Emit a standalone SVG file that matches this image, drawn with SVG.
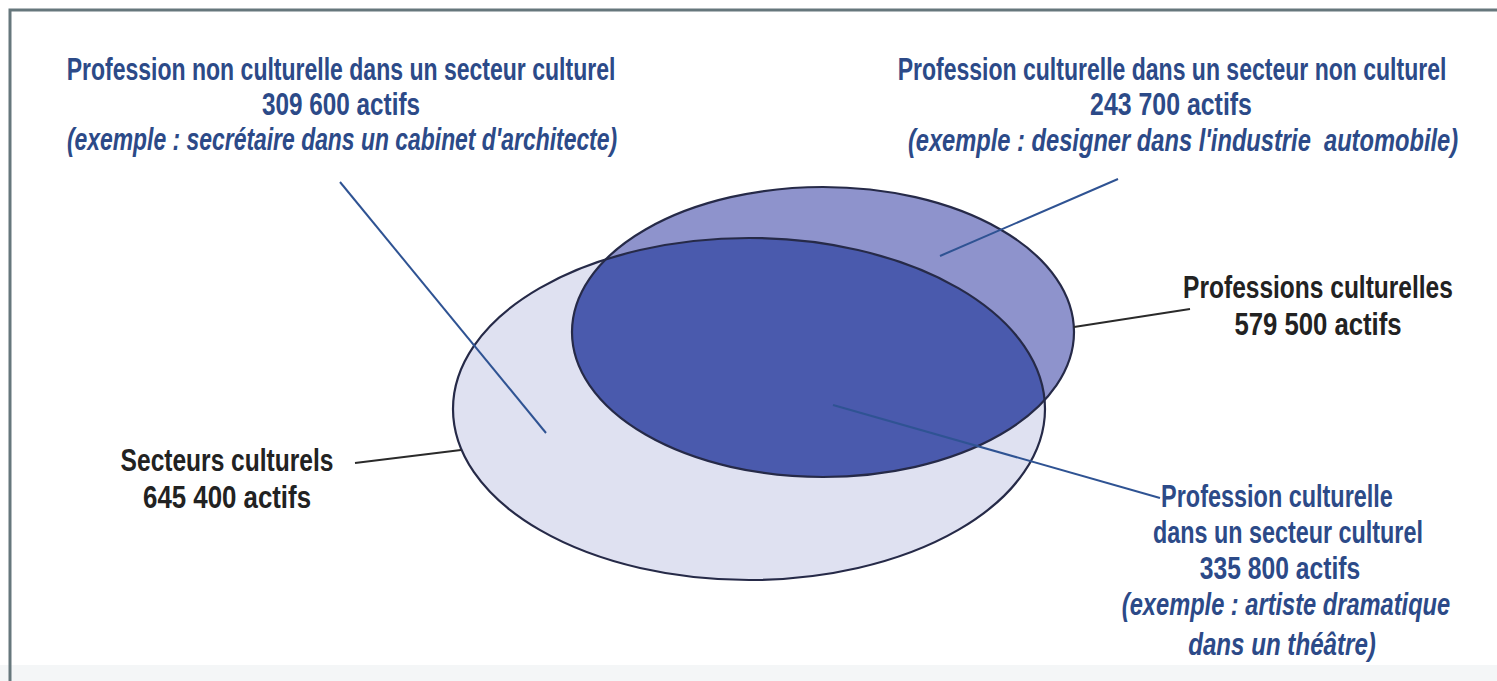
<svg xmlns="http://www.w3.org/2000/svg" width="1497" height="681" viewBox="0 0 1497 681">
<style>
.t{font-family:"Liberation Sans",Arial,sans-serif;font-size:31px;text-anchor:middle}
.blue{fill:#2c4a88;font-weight:bold}
.black{fill:#222222;font-weight:bold;font-size:32px}
.it{font-style:italic}
.lead{stroke:#2f5393;stroke-width:2;fill:none}
.leadk{stroke:#2a2a2a;stroke-width:2;fill:none}
.outline{fill:none;stroke:#262a48;stroke-width:2.2}
</style>
<defs>
<clipPath id="clipBig"><ellipse cx="749" cy="409" rx="296" ry="171"/></clipPath>
</defs>
<rect x="0" y="0" width="1497" height="681" fill="#ffffff"/>
<path d="M10 681 V10 H1497" fill="none" stroke="#66777c" stroke-width="3"/>

<g id="secteurs">
<ellipse cx="749" cy="409" rx="296" ry="171" fill="#dfe1f1"/>
</g>
<g id="professions">
<ellipse cx="823" cy="332" rx="251" ry="145" fill="#8e93cc"/>
</g>
<g id="intersection">
<ellipse cx="823" cy="332" rx="251" ry="145" fill="#4a5aad" clip-path="url(#clipBig)"/>
</g>
<g id="outlines">
<ellipse class="outline" cx="749" cy="409" rx="296" ry="171"/>
<ellipse class="outline" cx="823" cy="332" rx="251" ry="145"/>
</g>

<g id="connectors">
<line class="lead" x1="340" y1="182" x2="546" y2="433"/>
<line class="lead" x1="1118" y1="179" x2="940" y2="256"/>
<line class="leadk" x1="1074" y1="327" x2="1190" y2="309"/>
<line class="leadk" x1="355" y1="463" x2="461" y2="450"/>
<line class="lead" x1="833" y1="405" x2="1160" y2="498"/>
</g>

<g id="label-non-culturelle">
<text class="t blue" transform="translate(341 80) scale(0.76 1)" textLength="722" lengthAdjust="spacingAndGlyphs">Profession non culturelle dans un secteur culturel</text>
<text class="t blue" transform="translate(341 115) scale(0.76 1)" textLength="208" lengthAdjust="spacingAndGlyphs">309 600 actifs</text>
<text class="t blue it" transform="translate(342 150) scale(0.76 1)" textLength="724" lengthAdjust="spacingAndGlyphs">(exemple : secrétaire dans un cabinet d'architecte)</text>
</g>

<g id="label-secteur-non-culturel">
<text class="t blue" transform="translate(1172 80) scale(0.76 1)" textLength="722" lengthAdjust="spacingAndGlyphs">Profession culturelle dans un secteur non culturel</text>
<text class="t blue" transform="translate(1171 115) scale(0.76 1)" textLength="213" lengthAdjust="spacingAndGlyphs">243 700 actifs</text>
<text class="t blue it" transform="translate(1183 151) scale(0.76 1)" textLength="724" lengthAdjust="spacingAndGlyphs" xml:space="preserve">(exemple : designer dans l'industrie  automobile)</text>
</g>

<g id="label-professions">
<text class="t black" transform="translate(1318 298) scale(0.76 1)" textLength="355" lengthAdjust="spacingAndGlyphs">Professions culturelles</text>
<text class="t black" transform="translate(1318 335) scale(0.76 1)" textLength="220" lengthAdjust="spacingAndGlyphs">579 500 actifs</text>
</g>

<g id="label-secteurs">
<text class="t black" transform="translate(227 471) scale(0.76 1)" textLength="280" lengthAdjust="spacingAndGlyphs">Secteurs culturels</text>
<text class="t black" transform="translate(227 508) scale(0.76 1)" textLength="221" lengthAdjust="spacingAndGlyphs">645 400 actifs</text>
</g>

<g id="label-culturelle-culturel">
<text class="t blue" transform="translate(1277 507) scale(0.76 1)" textLength="305" lengthAdjust="spacingAndGlyphs">Profession culturelle</text>
<text class="t blue" transform="translate(1288 543) scale(0.76 1)" textLength="355" lengthAdjust="spacingAndGlyphs">dans un secteur culturel</text>
<text class="t blue" transform="translate(1280 579) scale(0.76 1)" textLength="211" lengthAdjust="spacingAndGlyphs">335 800 actifs</text>
<text class="t blue it" transform="translate(1286 615) scale(0.76 1)" textLength="432" lengthAdjust="spacingAndGlyphs">(exemple : artiste dramatique</text>
<text class="t blue it" transform="translate(1282 655) scale(0.76 1)" textLength="247" lengthAdjust="spacingAndGlyphs">dans un théâtre)</text>
</g>

<rect x="0" y="665" width="1497" height="16" fill="#f4f6f7"/>
<line x1="10" y1="665" x2="10" y2="681" stroke="#66777c" stroke-width="3"/>
</svg>
